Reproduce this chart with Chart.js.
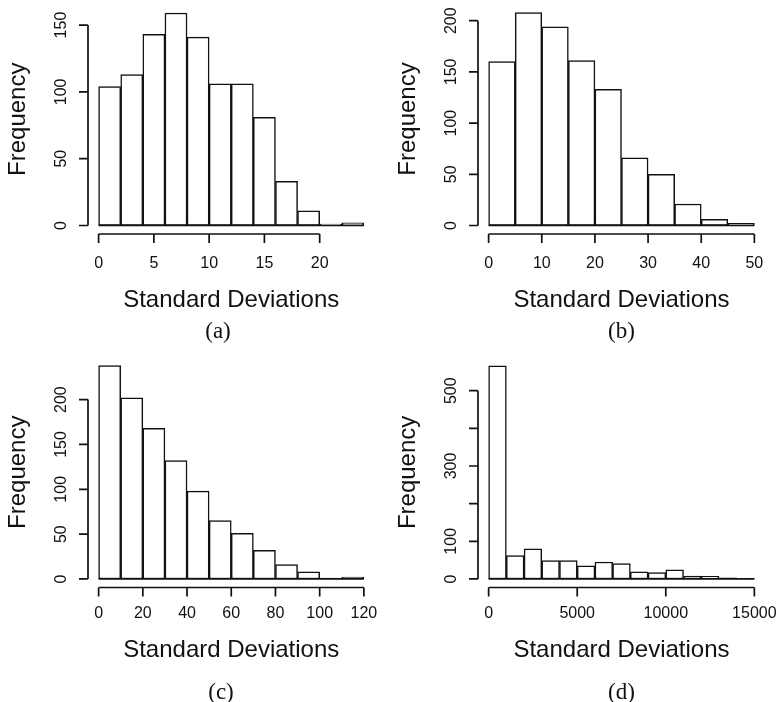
<!DOCTYPE html>
<html>
<head>
<meta charset="utf-8">
<script src="https://cdn.jsdelivr.net/npm/chart.js@4"></script>
<style>
  body { margin: 0; background: #fff; }
  #wrap { position: relative; width: 777px; height: 702px; background: #fff; }
  canvas { position: absolute; }
</style>
</head>
<body>
<div id="wrap">
  <canvas id="histA" width="388" height="351" style="left:0;top:0"></canvas>
  <canvas id="histB" width="388" height="351" style="left:389px;top:0"></canvas>
  <canvas id="histC" width="388" height="351" style="left:0;top:351px"></canvas>
  <canvas id="histD" width="388" height="351" style="left:389px;top:351px"></canvas>
</div>
<script>
// (a)
const aBreaks = [0, 2, 4, 6, 8, 10, 12, 14, 16, 18, 20, 22, 24];
const aCounts = [104, 113, 143, 159, 141, 106, 106, 81, 33, 11, 1, 2];
const aXTicks = [0, 5, 10, 15, 20];
const aYTicks = [0, 50, 100, 150];
const aYLabels = ["0", "50", "100", "150"];

// (b)
const bBreaks = [0, 5, 10, 15, 20, 25, 30, 35, 40, 45, 50];
const bCounts = [160, 208, 194, 161, 133, 66, 50, 21, 6, 2];
const bXTicks = [0, 10, 20, 30, 40, 50];
const bYTicks = [0, 50, 100, 150, 200];
const bYLabels = ["0", "50", "100", "150", "200"];

// (c)
const cBreaks = [0, 10, 20, 30, 40, 50, 60, 70, 80, 90, 100, 110, 120];
const cCounts = [238, 202, 168, 132, 98, 65, 51, 32, 16, 8, 1, 2];
const cXTicks = [0, 20, 40, 60, 80, 100, 120];
const cYTicks = [0, 50, 100, 150, 200];
const cYLabels = ["0", "50", "100", "150", "200"];

// (d)
const dBreaks = [0, 1000, 2000, 3000, 4000, 5000, 6000, 7000, 8000, 9000, 10000, 11000, 12000, 13000, 14000, 15000];
const dCounts = [566, 62, 80, 49, 49, 35, 45, 41, 19, 17, 24, 8, 7, 3, 1];
const dXTicks = [0, 5000, 10000, 15000];
const dYTicks = [0, 100, 200, 300, 400, 500];
const dYLabels = ["0", "100", "", "300", "", "500"];

const xTitle = "Standard Deviations";
const yTitle = "Frequency";

const ink = "#111";
const sans = '"Liberation Sans", Arial, sans-serif';
const serif = '"Liberation Serif", "Times New Roman", serif';

// R style axes: detached lines spanning first..last tick, rotated y labels
const rAxes = {
    id: "rAxes",
    afterDraw(chart, args, o) {
        const { ctx, chartArea: area, scales } = chart;
        const x = scales.x, y = scales.y;
        const tick = 9;
        ctx.save();
        ctx.strokeStyle = ink;
        ctx.fillStyle = ink;
        ctx.lineWidth = 1.7;

        // bottom edges of the bars (hist draws them, so empty-ish bins show as a line)
        ctx.beginPath();
        ctx.moveTo(x.getPixelForValue(o.breaks[0]), y.getPixelForValue(0));
        ctx.lineTo(x.getPixelForValue(o.breaks[o.breaks.length - 1]), y.getPixelForValue(0));
        ctx.stroke();

        const xs = o.xTicks.map(v => x.getPixelForValue(v));
        const ys = o.yTicks.map(v => y.getPixelForValue(v));
        ctx.beginPath();
        ctx.moveTo(xs[0], area.bottom);
        ctx.lineTo(xs[xs.length - 1], area.bottom);
        xs.forEach(px => { ctx.moveTo(px, area.bottom); ctx.lineTo(px, area.bottom + tick); });
        ctx.moveTo(area.left, ys[0]);
        ctx.lineTo(area.left, ys[ys.length - 1]);
        ys.forEach(py => { ctx.moveTo(area.left, py); ctx.lineTo(area.left - tick, py); });
        ctx.stroke();

        ctx.font = "16px " + sans;
        ctx.textAlign = "center";
        ctx.textBaseline = "alphabetic";
        o.xTicks.forEach((v, i) => ctx.fillText(String(v), xs[i], area.bottom + o.tickGap));
        o.yLabels.forEach((lab, i) => {
            if (!lab) return;
            ctx.save();
            ctx.translate(area.left - 22, ys[i]);
            ctx.rotate(-Math.PI / 2);
            ctx.fillText(lab, 0, 0);
            ctx.restore();
        });

        ctx.font = "24px " + sans;
        ctx.fillText(xTitle, (area.left + area.right) / 2, area.bottom + o.titleGap);
        ctx.save();
        ctx.translate(area.left - 63, (area.top + area.bottom) / 2);
        ctx.rotate(-Math.PI / 2);
        ctx.fillText(yTitle, 0, 0);
        ctx.restore();

        ctx.font = "23px " + serif;
        ctx.fillText(o.caption, o.capX, o.capY);
        ctx.restore();
    }
};

function histogram(id, breaks, counts, xTicks, yTicks, yLabels, caption, box) {
    const pts = counts.map((c, i) => ({ x: (breaks[i] + breaks[i + 1]) / 2, y: c }));
    const lo = breaks[0], hi = breaks[breaks.length - 1];
    const top = Math.max(...counts);
    // R extends both ranges by 4%
    const xPad = (hi - lo) * 0.04, yPad = top * 0.04;

    new Chart(document.getElementById(id).getContext("2d"), {
        type: "bar",
        data: {
            datasets: [{
                data: pts,
                backgroundColor: "#fff",
                borderColor: ink,
                borderWidth: 1.5,
                borderSkipped: false,
                barPercentage: 1,
                categoryPercentage: 1,
            }],
        },
        options: {
            responsive: false,
            animation: false,
            events: [],
            layout: { padding: box.pad },
            scales: {
                x: { type: "linear", min: lo - xPad, max: hi + xPad, offset: false, display: false },
                y: { min: -yPad, max: top + yPad, display: false },
            },
            plugins: {
                legend: { display: false },
                tooltip: { enabled: false },
                rAxes: {
                    breaks: breaks, xTicks: xTicks, yTicks: yTicks, yLabels: yLabels, caption: caption,
                    tickGap: box.tickGap, titleGap: box.titleGap, capX: box.capX, capY: box.capY,
                },
            },
        },
        plugins: [rAxes],
    });
}

histogram("histA", aBreaks, aCounts, aXTicks, aYTicks, aYLabels, "(a)",
    { pad: { left: 88, top: 4.5, right: 13.5, bottom: 117 }, tickGap: 34, titleGap: 72.5, capX: 218, capY: 338 });
histogram("histB", bBreaks, bCounts, bXTicks, bYTicks, bYLabels, "(b)",
    { pad: { left: 89, top: 4, right: 12, bottom: 117 }, tickGap: 34, titleGap: 72.5, capX: 232.5, capY: 338 });
histogram("histC", cBreaks, cCounts, cXTicks, cYTicks, cYLabels, "(c)",
    { pad: { left: 88, top: 6, right: 13.5, bottom: 114.5 }, tickGap: 30, titleGap: 69, capX: 221, capY: 348 });
histogram("histD", dBreaks, dCounts, dXTicks, dYTicks, dYLabels, "(d)",
    { pad: { left: 89, top: 6.3, right: 12, bottom: 114.5 }, tickGap: 30, titleGap: 69, capX: 232.5, capY: 348 });
</script>
</body>
</html>
